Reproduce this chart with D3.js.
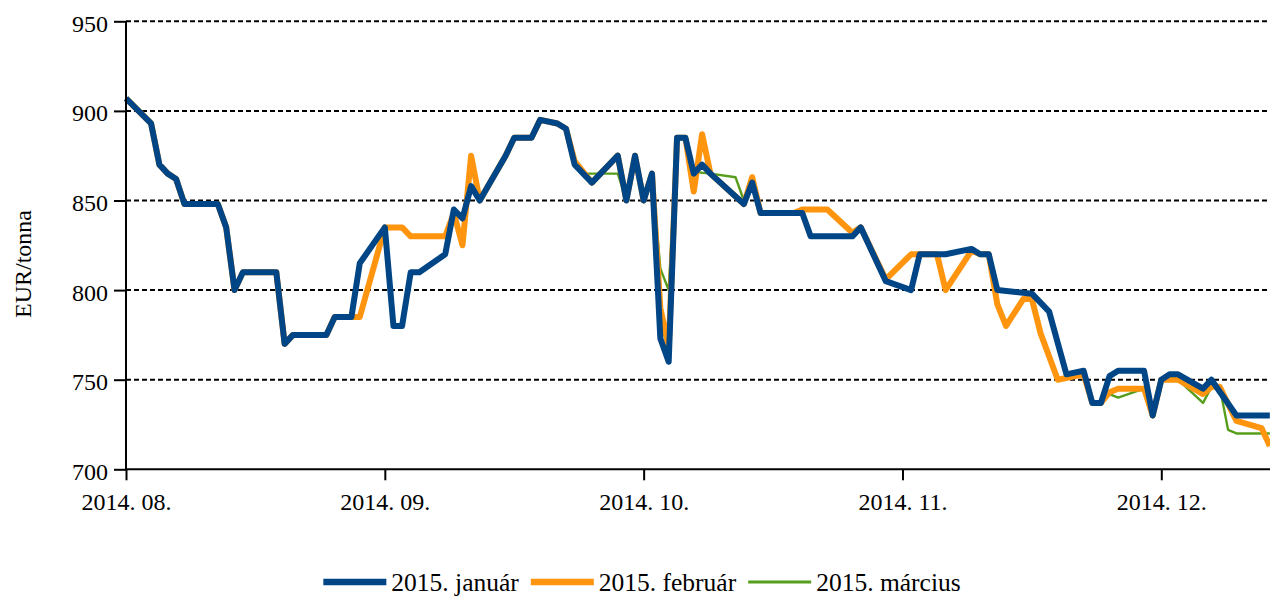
<!DOCTYPE html>
<html>
<head>
<meta charset="utf-8">
<script src="https://cdn.jsdelivr.net/npm/d3@7"></script>
<style>
  html, body { margin: 0; padding: 0; background: #fff; }
  svg { display: block; }
  text { font-family: "Liberation Serif", "Times New Roman", serif; fill: #000; }
</style>
</head>
<body>
<svg id="chart" width="1270" height="599"></svg>
<script>
// Month tick labels along the date axis
const tickLabels = ["2014. 08.", "2014. 09.", "2014. 10.", "2014. 11.", "2014. 12."];
const yTicks = [700, 750, 800, 850, 900, 950];
const seriesNames = ["2015. január", "2015. február", "2015. március"];

// Futures prices (EUR/tonna) by quotation date, one array per contract month
const januar = [
  ["2014-08-01", 907], ["2014-08-04", 893], ["2014-08-05", 870], ["2014-08-06", 865],
  ["2014-08-07", 862], ["2014-08-08", 848], ["2014-08-12", 848], ["2014-08-13", 835],
  ["2014-08-14", 800], ["2014-08-15", 810], ["2014-08-19", 810], ["2014-08-20", 770],
  ["2014-08-21", 775], ["2014-08-25", 775], ["2014-08-26", 785], ["2014-08-28", 785],
  ["2014-08-29", 815], ["2014-09-01", 835], ["2014-09-02", 780], ["2014-09-03", 780],
  ["2014-09-04", 810], ["2014-09-05", 810], ["2014-09-08", 820], ["2014-09-09", 845],
  ["2014-09-10", 840], ["2014-09-11", 858], ["2014-09-12", 850], ["2014-09-15", 875],
  ["2014-09-16", 885], ["2014-09-18", 885], ["2014-09-19", 895], ["2014-09-21", 893],
  ["2014-09-22", 890], ["2014-09-23", 870], ["2014-09-25", 860], ["2014-09-28", 875],
  ["2014-09-29", 850], ["2014-09-30", 875], ["2014-10-01", 850], ["2014-10-02", 865],
  ["2014-10-03", 773], ["2014-10-04", 760], ["2014-10-05", 885], ["2014-10-06", 885],
  ["2014-10-07", 865], ["2014-10-08", 870], ["2014-10-09", 865], ["2014-10-13", 848],
  ["2014-10-14", 860], ["2014-10-15", 843], ["2014-10-20", 843], ["2014-10-21", 830],
  ["2014-10-26", 830], ["2014-10-27", 835], ["2014-10-30", 805], ["2014-11-02", 800],
  ["2014-11-03", 820], ["2014-11-06", 820], ["2014-11-09", 823], ["2014-11-10", 820],
  ["2014-11-11", 820], ["2014-11-12", 800], ["2014-11-16", 798], ["2014-11-18", 788],
  ["2014-11-20", 753], ["2014-11-22", 755], ["2014-11-23", 737], ["2014-11-24", 737],
  ["2014-11-25", 752], ["2014-11-26", 755], ["2014-11-29", 755], ["2014-11-30", 730],
  ["2014-12-01", 750], ["2014-12-02", 753], ["2014-12-03", 753], ["2014-12-06", 745],
  ["2014-12-07", 750], ["2014-12-10", 730], ["2014-12-14", 730]
];

const februar = [
  ["2014-08-01", 907], ["2014-08-04", 893], ["2014-08-05", 870], ["2014-08-06", 865],
  ["2014-08-07", 862], ["2014-08-08", 848], ["2014-08-12", 848], ["2014-08-13", 835],
  ["2014-08-14", 800], ["2014-08-15", 810], ["2014-08-19", 810], ["2014-08-20", 770],
  ["2014-08-21", 775], ["2014-08-25", 775], ["2014-08-26", 785], ["2014-08-29", 785],
  ["2014-09-01", 835], ["2014-09-03", 835], ["2014-09-04", 830], ["2014-09-08", 830],
  ["2014-09-09", 843], ["2014-09-10", 825], ["2014-09-11", 875], ["2014-09-12", 850],
  ["2014-09-15", 875], ["2014-09-16", 885], ["2014-09-18", 885], ["2014-09-19", 895],
  ["2014-09-21", 893], ["2014-09-22", 890], ["2014-09-23", 872], ["2014-09-25", 860],
  ["2014-09-28", 875], ["2014-09-29", 850], ["2014-09-30", 875], ["2014-10-01", 850],
  ["2014-10-02", 865], ["2014-10-03", 790], ["2014-10-04", 768], ["2014-10-05", 885],
  ["2014-10-06", 885], ["2014-10-07", 855], ["2014-10-08", 887], ["2014-10-09", 865],
  ["2014-10-13", 848], ["2014-10-14", 863], ["2014-10-15", 843], ["2014-10-19", 843],
  ["2014-10-20", 845], ["2014-10-23", 845], ["2014-10-26", 832], ["2014-10-27", 835],
  ["2014-10-30", 806], ["2014-11-02", 820], ["2014-11-05", 820], ["2014-11-06", 800],
  ["2014-11-09", 822], ["2014-11-10", 820], ["2014-11-11", 820], ["2014-11-12", 792],
  ["2014-11-13", 780], ["2014-11-15", 795], ["2014-11-16", 795], ["2014-11-17", 776],
  ["2014-11-19", 750], ["2014-11-22", 753], ["2014-11-23", 737], ["2014-11-24", 737],
  ["2014-11-25", 743], ["2014-11-26", 745], ["2014-11-29", 745], ["2014-11-30", 730],
  ["2014-12-01", 750], ["2014-12-03", 750], ["2014-12-06", 742], ["2014-12-07", 746],
  ["2014-12-08", 746], ["2014-12-10", 727], ["2014-12-13", 723], ["2014-12-14", 713]
];

const marcius = [
  ["2014-08-01", 907], ["2014-08-04", 893], ["2014-08-05", 870], ["2014-08-06", 865],
  ["2014-08-07", 862], ["2014-08-08", 848], ["2014-08-12", 848], ["2014-08-13", 835],
  ["2014-08-14", 800], ["2014-08-15", 810], ["2014-08-19", 810], ["2014-08-20", 770],
  ["2014-08-21", 775], ["2014-08-25", 775], ["2014-08-26", 785], ["2014-08-29", 785],
  ["2014-09-01", 835], ["2014-09-03", 835], ["2014-09-04", 830], ["2014-09-08", 830],
  ["2014-09-09", 843], ["2014-09-10", 825], ["2014-09-11", 875], ["2014-09-12", 850],
  ["2014-09-15", 875], ["2014-09-16", 885], ["2014-09-18", 885], ["2014-09-19", 895],
  ["2014-09-21", 893], ["2014-09-22", 890], ["2014-09-23", 870], ["2014-09-24", 865],
  ["2014-09-28", 865], ["2014-09-29", 850], ["2014-09-30", 875], ["2014-10-01", 850],
  ["2014-10-02", 865], ["2014-10-03", 812], ["2014-10-04", 800], ["2014-10-05", 885],
  ["2014-10-06", 885], ["2014-10-07", 866], ["2014-10-09", 865], ["2014-10-12", 863],
  ["2014-10-13", 850], ["2014-10-14", 860], ["2014-10-15", 843], ["2014-10-19", 843],
  ["2014-10-20", 845], ["2014-10-23", 845], ["2014-10-26", 832], ["2014-10-27", 835],
  ["2014-10-30", 806], ["2014-11-02", 820], ["2014-11-05", 820], ["2014-11-06", 800],
  ["2014-11-09", 822], ["2014-11-10", 820], ["2014-11-11", 820], ["2014-11-12", 792],
  ["2014-11-13", 780], ["2014-11-15", 795], ["2014-11-16", 795], ["2014-11-17", 776],
  ["2014-11-19", 750], ["2014-11-22", 753], ["2014-11-23", 737], ["2014-11-24", 737],
  ["2014-11-25", 742], ["2014-11-26", 740], ["2014-11-29", 745], ["2014-11-30", 730],
  ["2014-12-01", 750], ["2014-12-03", 750], ["2014-12-06", 737], ["2014-12-07", 746],
  ["2014-12-08", 746], ["2014-12-09", 722], ["2014-12-10", 720], ["2014-12-14", 720]
];

const colors = ["#004586", "#ff950e", "#579d1c"];
const widths = [6, 6, 2.4];
const fontStack = '"Liberation Serif", "Times New Roman", serif';

const svg = d3.select("#chart");
const plotLeft = 126, plotRight = 1270, plotTop = 21.3, plotBottom = 469.3;

// Each calendar month gets the same width on the axis
const parse = d3.timeParse("%Y-%m-%d");
function monthPos(s) {
  const d = parse(s);
  const mi = (d.getFullYear() - 2014) * 12 + d.getMonth() - 7;
  const dim = new Date(d.getFullYear(), d.getMonth() + 1, 0).getDate();
  return mi + (d.getDate() - 1) / dim;
}

const x = d3.scaleLinear().domain([0, 4.42]).range([plotLeft, plotRight]);
const y = d3.scaleLinear().domain([700, 950]).range([plotBottom, plotTop]);

// Dotted horizontal grid
svg.append("g")
  .selectAll("line")
  .data(yTicks.filter(v => v > 700))
  .join("line")
  .attr("x1", plotLeft).attr("x2", plotRight)
  .attr("y1", d => y(d)).attr("y2", d => y(d))
  .attr("stroke", "#000")
  .attr("stroke-width", 2)
  .attr("stroke-dasharray", "5,3");

// Series lines, March underneath, January on top
const line = d3.line()
  .x(d => x(monthPos(d[0])))
  .y(d => y(d[1]))
  .curve(d3.curveLinear);

const allSeries = [januar, februar, marcius];
[2, 1, 0].forEach(i => {
  svg.append("path")
    .datum(allSeries[i])
    .attr("d", line)
    .attr("fill", "none")
    .attr("stroke", colors[i])
    .attr("stroke-width", widths[i])
    .attr("stroke-linejoin", "round")
    .attr("stroke-linecap", "butt");
});

// Y axis
const yAxis = svg.append("g")
  .attr("transform", `translate(${plotLeft},0)`)
  .call(d3.axisLeft(y).tickValues(yTicks).tickSize(12).tickPadding(6).tickFormat(d3.format("d")))
  .attr("font-family", fontStack)
  .attr("font-size", 24);
yAxis.select(".domain").attr("stroke", "#000").attr("stroke-width", 2)
  .attr("d", `M0,${plotTop}V${plotBottom}`);
yAxis.selectAll(".tick line").attr("stroke", "#000").attr("stroke-width", 2).attr("x2", -12).attr("x1", 1);
yAxis.selectAll(".tick text").attr("dy", "0.42em");

// X axis
const xAxis = svg.append("g")
  .attr("transform", `translate(0,${plotBottom})`)
  .call(d3.axisBottom(x).tickValues([0, 1, 2, 3, 4]).tickSize(11).tickPadding(13)
    .tickFormat((d, i) => tickLabels[i]))
  .attr("font-family", fontStack)
  .attr("font-size", 24);
xAxis.select(".domain").attr("stroke", "#000").attr("stroke-width", 2)
  .attr("d", `M${plotLeft},0H${plotRight}`);
xAxis.selectAll(".tick line").attr("stroke", "#000").attr("stroke-width", 2);

// Y axis title
svg.append("text")
  .attr("transform", "translate(31,264) rotate(-90)")
  .attr("text-anchor", "middle")
  .attr("font-size", 24)
  .text("EUR/tonna");

// Legend along the bottom
const legend = svg.append("g");
let cx = 0;
seriesNames.forEach((name, i) => {
  const g = legend.append("g");
  g.append("line")
    .attr("x1", 0).attr("x2", 63)
    .attr("y1", 0).attr("y2", 0)
    .attr("stroke", colors[i])
    .attr("stroke-width", widths[i] + 0.5);
  const t = g.append("text")
    .attr("x", 68).attr("y", 9)
    .attr("font-size", 25.5)
    .text(name);
  const w = 68 + t.node().getComputedTextLength();
  g.attr("transform", `translate(${cx},0)`);
  cx += w + 12;
});
const total = cx - 12;
legend.attr("transform", `translate(${642 - total / 2},582)`);
</script>
</body>
</html>
